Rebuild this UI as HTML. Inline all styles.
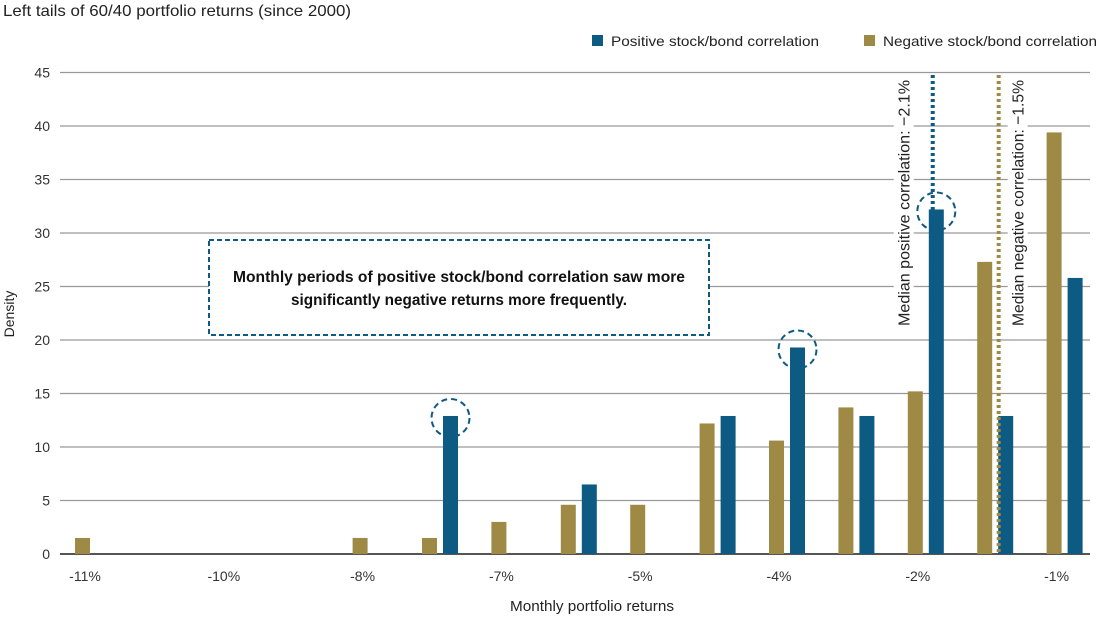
<!DOCTYPE html>
<html><head><meta charset="utf-8"><style>
html,body{margin:0;padding:0;background:#fff;}
svg{display:block;font-family:"Liberation Sans",sans-serif;}
</style></head><body>
<svg id="chart" width="1100" height="619" viewBox="0 0 1100 619">
<text x="3" y="16" font-size="16" fill="#222" textLength="348" lengthAdjust="spacingAndGlyphs">Left tails of 60/40 portfolio returns (since 2000)</text>
<g>
<rect x="592" y="35" width="11" height="11" fill="#0d5a82"/>
<text x="611" y="46" font-size="14" fill="#222" textLength="208" lengthAdjust="spacingAndGlyphs">Positive stock/bond correlation</text>
<rect x="864" y="35" width="11" height="11" fill="#9e8a45"/>
<text x="883" y="46" font-size="14" fill="#222" textLength="214" lengthAdjust="spacingAndGlyphs">Negative stock/bond correlation</text>
</g>
<g id="grid"></g><g id="bars"></g><g id="annot"></g>
<text x="592" y="611" font-size="15" fill="#222" text-anchor="middle" textLength="164" lengthAdjust="spacingAndGlyphs">Monthly portfolio returns</text>
<text transform="translate(14,314) rotate(-90)" font-size="14" fill="#222" text-anchor="middle">Density</text>
<g>
<rect x="209" y="240" width="500" height="95" fill="#fff" stroke="#0d5a82" stroke-width="2" stroke-dasharray="5,3"/>
<text x="459" y="282" font-size="16" font-weight="bold" fill="#111" text-anchor="middle" textLength="452" lengthAdjust="spacingAndGlyphs">Monthly periods of positive stock/bond correlation saw more</text>
<text x="459" y="305" font-size="16" font-weight="bold" fill="#111" text-anchor="middle" textLength="336" lengthAdjust="spacingAndGlyphs">significantly negative returns more frequently.</text>
</g>
</svg>
<script>
const categories=["-11%","","-10%","","-8%","","-7%","","-5%","","-4%","","-2%","","-1%"];
const negativeValues=[1.5,0,0,0,1.5,1.5,3.0,4.6,4.6,12.2,10.6,13.7,15.2,27.3,39.4];
const positiveValues=[0,0,0,0,0,12.9,0,6.5,0,12.9,19.3,12.9,32.2,12.9,25.8];
const yTicks=[0,5,10,15,20,25,30,35,40,45];
const highlighted=[5,10,12];
const medianPositive=12.1; // in bin units
const medianNegative=13.05;
const NS="http://www.w3.org/2000/svg";
const y=v=>554-v*10.7;
const xLeft=k=>75+k*69.4;
const xCenter=k=>xLeft(k)+18;
function mk(t,a,p){const e=document.createElementNS(NS,t);for(const k in a)e.setAttribute(k,a[k]);p.appendChild(e);return e;}
const grid=document.getElementById('grid'),bars=document.getElementById('bars'),an=document.getElementById('annot');
yTicks.forEach(v=>{
 const l=mk('line',{x1:60,x2:1090,y1:y(v),y2:y(v),stroke:v===0?'#555':'#999','stroke-width':v===0?2:1.2},grid);
 
 
 const t=mk('text',{x:50,y:y(v)+5,'font-size':14,fill:'#333','text-anchor':'end'},grid);
 t.textContent=v;
 
 
});
categories.forEach((c,k)=>{
 if(c){const t=mk('text',{x:xCenter(k)-8,y:581,'font-size':14,fill:'#333','text-anchor':'middle'},grid);
 t.textContent=c;
 
 }
 if(negativeValues[k]>0){const r=mk('rect',{x:xLeft(k),y:y(negativeValues[k]),width:15,height:554-y(negativeValues[k]),fill:'#9e8a45'},bars);
 
 }
 if(positiveValues[k]>0){const r=mk('rect',{x:xLeft(k)+21,y:y(positiveValues[k]),width:15,height:554-y(positiveValues[k]),fill:'#0d5a82'},bars);
 
 }
});
highlighted.forEach(k=>{
 const c=mk('circle',{cx:xLeft(k)+28.5,cy:y(positiveValues[k])+2,r:19,fill:'none',stroke:'#0d5a82','stroke-width':2,'stroke-dasharray':'6,4'},an);
 
 
});
function median(pos,color,label,tx,name){
 const mx=xLeft(pos)+18;
 const l=mk('line',{x1:mx,x2:mx,y1:75,y2:554,stroke:color,'stroke-width':4,'stroke-dasharray':'3,3'},an);
 
 
 const bg=mk('rect',{x:mx+tx-10,y:78,width:20,height:250,fill:'#fff'},an);
 
 
 const t=mk('text',{transform:`translate(${mx+tx+6},326) rotate(-90)`,'font-size':16,fill:'#222',textLength:246,lengthAdjust:'spacingAndGlyphs'},an);
 t.textContent=label;
 
 
}
median(medianPositive,'#0d5a82','Median positive correlation: \u22122.1%',-29,'median-positive');
median(medianNegative,'#9e8a45','Median negative correlation: \u22121.5%',19,'median-negative');
</script>
</body></html>
